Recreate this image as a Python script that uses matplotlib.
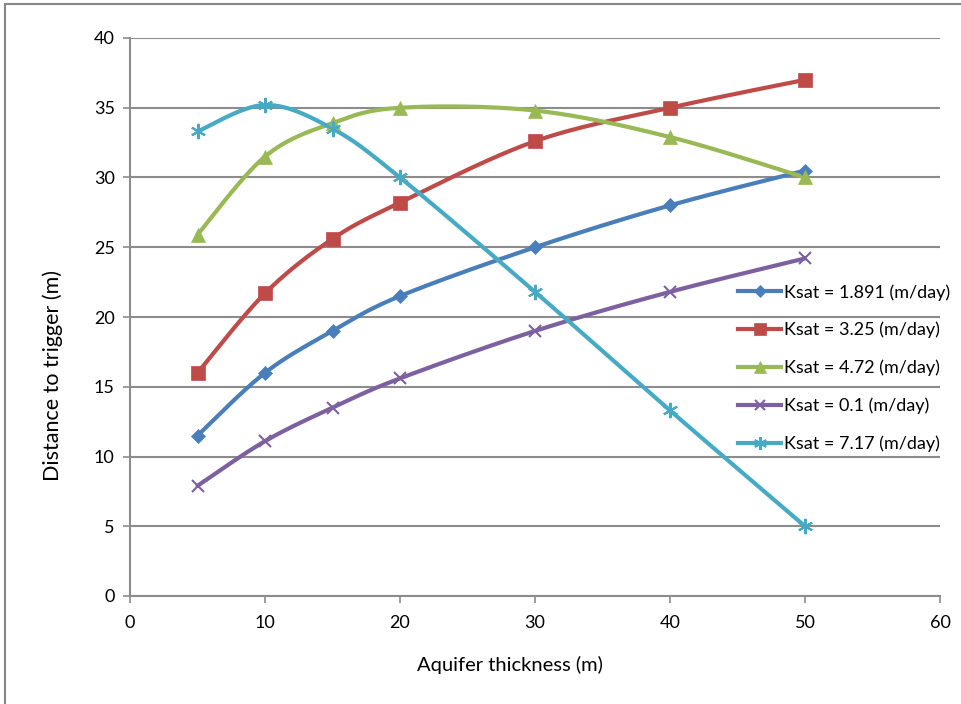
import numpy as np
import matplotlib
matplotlib.use("Agg")
import matplotlib.pyplot as plt
from matplotlib.lines import Line2D
from matplotlib.patches import Rectangle

plt.rcParams['font.family'] = ['Lato', 'DejaVu Sans']

# Aquifer thickness (m)
thickness = [5, 10, 15, 20, 30, 40, 50]

# Distance to trigger (m) for each saturated hydraulic conductivity
ksat_1891 = [11.5, 16.0, 19.0, 21.5, 25.0, 28.0, 30.5]
ksat_325 = [16.0, 21.7, 25.6, 28.2, 32.6, 35.0, 37.0]
ksat_472 = [25.9, 31.5, 33.9, 35.0, 34.8, 32.9, 30.0]
ksat_01 = [7.9, 11.1, 13.5, 15.6, 19.0, 21.8, 24.2]
ksat_717 = [33.3, 35.2, 33.5, 30.0, 21.8, 13.3, 5.0]

labels = ["Ksat = 1.891 (m/day)", "Ksat = 3.25 (m/day)", "Ksat = 4.72 (m/day)",
          "Ksat = 0.1 (m/day)", "Ksat = 7.17 (m/day)"]
colors = ["#4A7EBB", "#BE4B48", "#98B954", "#7D60A0", "#46AAC5"]
markers = ["D", "s", "^", "x", (6, 2, 0)]
msizes = [7.5, 10.5, 10, 9, 11]
series = [ksat_1891, ksat_325, ksat_472, ksat_01, ksat_717]


def smooth_curve(x, y, n=30):
    """Catmull-Rom style cubic Bezier through the points."""
    p = np.column_stack([x, y]).astype(float)
    out = []
    m = len(p)
    for i in range(m - 1):
        p0 = p[i - 1] if i > 0 else p[i]
        p1 = p[i]
        p2 = p[i + 1]
        p3 = p[i + 2] if i + 2 < m else p[i + 1]
        c1 = p1 + (p2 - p0) / 6.0
        c2 = p2 - (p3 - p1) / 6.0
        t = np.linspace(0, 1, n)[:, None]
        seg = ((1 - t) ** 3) * p1 + 3 * ((1 - t) ** 2) * t * c1 + 3 * (1 - t) * t ** 2 * c2 + t ** 3 * p2
        if i > 0:
            seg = seg[1:]
        out.append(seg)
    out = np.vstack(out)
    return out[:, 0], out[:, 1]


fig = plt.figure(figsize=(9.61, 7.04), dpi=100)
fig.patches.append(Rectangle((5 / 961, -0.1), 1.2, 1 - 4 / 704 + 0.1,
                             transform=fig.transFigure, fill=False,
                             edgecolor="#868686", linewidth=1.5))

ax = fig.add_axes([130 / 961, 1 - 596 / 704, 810 / 961, 558 / 704])

handles = []
for ys, lab, col, mk, ms in zip(series, labels, colors, markers, msizes):
    sx, sy = smooth_curve(thickness, ys)
    ax.plot(sx, sy, color=col, linewidth=3, solid_capstyle="round", zorder=3)
    mew = 1.5 if mk in ("x",) or isinstance(mk, tuple) else 0.5
    ax.plot(thickness, ys, linestyle="none", marker=mk, markersize=ms,
            color=col, markeredgecolor=col, markeredgewidth=mew, zorder=4)
    handles.append(Line2D([], [], color=col, linewidth=3, marker=mk,
                          markersize=ms * 0.85, markeredgecolor=col,
                          markeredgewidth=mew, label=lab))

ax.set_xlim(0, 60)
ax.set_ylim(0, 40)
ax.set_xticks(range(0, 61, 10))
ax.set_yticks(range(0, 41, 5))
ax.grid(axis="y", color="#8C8C8C", linewidth=1.5)
ax.set_axisbelow(True)
for side in ("top", "right"):
    ax.spines[side].set_visible(False)
for side in ("left", "bottom"):
    ax.spines[side].set_color("#8C8C8C")
    ax.spines[side].set_linewidth(1.5)
ax.tick_params(axis="both", direction="out", length=5, width=1.2,
               color="#8C8C8C", labelsize=13, labelcolor="#000000")
ax.tick_params(axis="x", pad=9)
ax.tick_params(axis="y", pad=6)

ax.set_xlabel("Aquifer thickness (m)", fontsize=14.5)
ax.set_ylabel("Distance to trigger (m)", fontsize=15.5)
ax.xaxis.set_label_coords(0.469, -0.1075)
ax.yaxis.set_label_coords(-0.083, 0.396)

leg = ax.legend(handles=handles, loc="upper left",
                bbox_to_anchor=(738 / 961, 1 - 284 / 704),
                bbox_transform=fig.transFigure, frameon=False,
                fontsize=13, handlelength=2.4, handletextpad=0.15,
                labelspacing=1.18, borderpad=0, borderaxespad=0)

fig.savefig("out.png", dpi=100)
